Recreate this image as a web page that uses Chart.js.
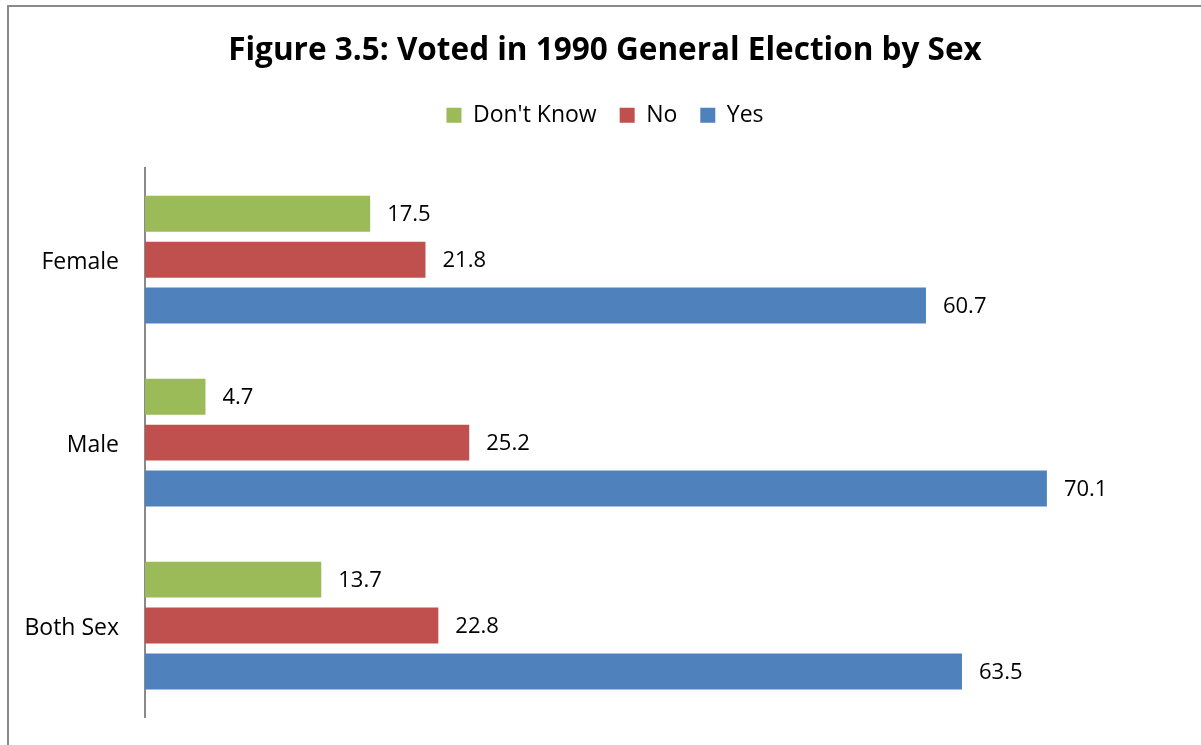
<!DOCTYPE html>
<html>
<head>
<meta charset="utf-8">
<script src="https://cdn.jsdelivr.net/npm/chart.js@4"></script>
<style>
  body { margin: 0; background: #fff; }
  #frame { position: absolute; left: 7px; top: 5px; width: 1400px; height: 900px;
           border-left: 2px solid #8a8a8a; border-top: 2px solid #8a8a8a; }
  #wrap { position: absolute; left: 0; top: 0; width: 1201px; height: 745px; }
</style>
</head>
<body>
<div id="frame"></div>
<div id="wrap"><canvas id="chart" width="1201" height="745"></canvas></div>
<script>
var categories = ['Female', 'Male', 'Both Sex'];
var dontKnow = [17.5, 4.7, 13.7];
var no = [21.8, 25.2, 22.8];
var yes = [60.7, 70.1, 63.5];

var font = '"Open Sans", sans-serif';

// values written just past the end of each bar
var barValues = {
  id: 'barValues',
  afterDatasetsDraw: function (chart) {
    var ctx = chart.ctx;
    ctx.save();
    ctx.font = '22px ' + font;
    ctx.fillStyle = '#000';
    ctx.textBaseline = 'middle';
    ctx.textAlign = 'left';
    chart.data.datasets.forEach(function (ds, i) {
      chart.getDatasetMeta(i).data.forEach(function (bar, j) {
        ctx.fillText(ds.data[j].toFixed(1), bar.x + 17, bar.y + 1);
      });
    });
    ctx.restore();
  }
};

new Chart(document.getElementById('chart'), {
  type: 'bar',
  data: {
    labels: categories,
    datasets: [
      { label: "Don't Know", data: dontKnow, backgroundColor: '#9bbb59' },
      { label: 'No', data: no, backgroundColor: '#c0504d' },
      { label: 'Yes', data: yes, backgroundColor: '#4f81bd' }
    ]
  },
  options: {
    indexAxis: 'y',
    responsive: false,
    animation: false,
    categoryPercentage: 0.7527,
    barPercentage: 0.7826,
    layout: { padding: { left: 10, right: 1, top: 0, bottom: 28 } },
    plugins: {
      title: {
        display: true,
        text: 'Figure 3.5: Voted in 1990 General Election by Sex',
        color: '#000',
        font: { family: font, size: 31.5, weight: 'bold', lineHeight: 1.2 },
        padding: { top: 32, bottom: 10.9 }
      },
      legend: {
        display: true,
        position: 'top',
        labels: {
          color: '#000',
          font: { family: font, size: 23 },
          boxWidth: 15,
          boxHeight: 15,
          padding: 23
        }
      },
      tooltip: { enabled: false }
    },
    scales: {
      x: {
        position: 'top',
        min: 0,
        max: 82,
        grid: { display: false, drawTicks: false },
        border: { display: false },
        ticks: { display: false },
        afterFit: function (s) { s.height = 31.5; }
      },
      y: {
        grid: { display: false, drawTicks: false },
        border: { display: true, color: '#8a8a8a', width: 2 },
        ticks: { color: '#000', font: { family: font, size: 23 }, padding: 26, labelOffset: 2.5 },
        afterFit: function (s) {
          s.width = 135;
          s.paddingTop = 0;
          s.paddingBottom = 0;
        }
      }
    }
  },
  plugins: [barValues]
});
</script>
</body>
</html>
